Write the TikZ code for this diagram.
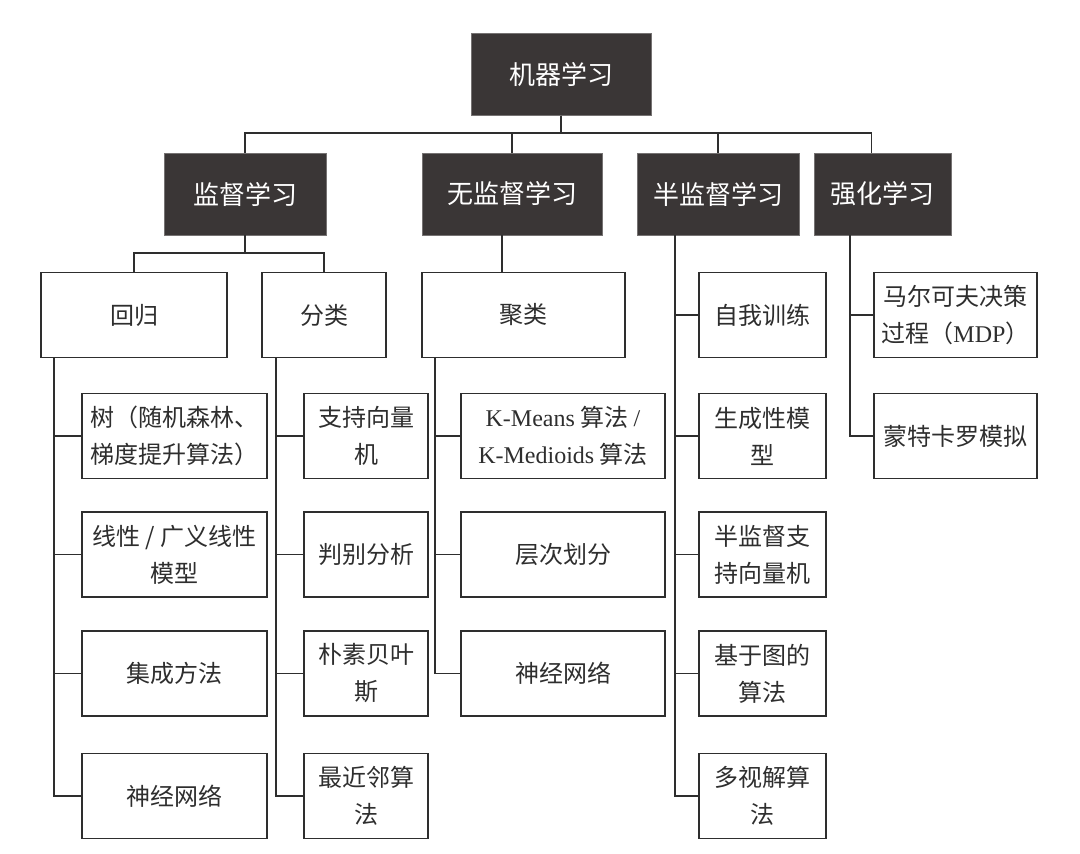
\documentclass[tikz,border=0pt]{standalone}
\usepackage{fontspec}
\setmainfont{Noto Sans CJK SC}
\newfontfamily\lat{Liberation Serif}
\usepackage{tikz}
\usetikzlibrary{positioning}
\definecolor{ink}{HTML}{3A3636}
\definecolor{rule}{HTML}{2E2E2E}
\tikzset{
  head/.style={fill=ink,draw=ink!70,text=white,minimum height=82pt,inner sep=0pt,font=\fontsize{26}{30}\selectfont},
  box/.style={draw=rule,fill=white,line width=1.8pt,minimum height=85pt,inner sep=0pt,align=center,text=black!82,font=\fontsize{24}{37}\selectfont},
  link/.style={draw=rule,line width=1.8pt},
}
\begin{document}
\begin{tikzpicture}[x=1pt,y=-1pt]
\useasboundingbox (0,0) rectangle (1080,854);
% top levels
\node[head,minimum width=180pt] (ml) at (561,74.5) {机器学习};
\node[head,minimum width=162pt] (sup) at (245,194) {监督学习};
\node[head,minimum width=180pt] (uns) at (512,194) {无监督学习};
\node[head,minimum width=162pt] (semi) at (718,194) {半监督学习};
\node[head,minimum width=137pt] (rl) at (882.5,194) {强化学习};
\node[box,minimum width=186pt] (reg) at (134,315) {回归};
\node[box,minimum width=124pt] (cls) at (324,315) {分类};
\node[box,minimum width=203pt] (clu) at (523.5,315) {聚类};
% leaves
\node[box,minimum width=185pt] (r1) at (174.5,436) {树（随机森林、\\梯度提升算法）};
\node[box,minimum width=185pt] (r2) at (174.5,554.5) {线性 / 广义线性\\模型};
\node[box,minimum width=185pt] (r3) at (174.5,673.5) {集成方法};
\node[box,minimum width=185pt] (r4) at (174.5,796) {神经网络};
\node[box,minimum width=124pt] (c1) at (366,436) {支持向量\\机};
\node[box,minimum width=124pt] (c2) at (366,554.5) {判别分析};
\node[box,minimum width=124pt] (c3) at (366,673.5) {朴素贝叶\\斯};
\node[box,minimum width=124pt] (c4) at (366,796) {最近邻算\\法};
\node[box,minimum width=204pt] (k1) at (563,436) {{\lat K-Means} 算法 {\lat /}\\{\lat K-Medioids} 算法};
\node[box,minimum width=204pt] (k2) at (563,554.5) {层次划分};
\node[box,minimum width=204pt] (k3) at (563,673.5) {神经网络};
\node[box,minimum width=127pt] (s1) at (762.5,315) {自我训练};
\node[box,minimum width=127pt] (s2) at (762.5,436) {生成性模\\型};
\node[box,minimum width=127pt] (s3) at (762.5,554.5) {半监督支\\持向量机};
\node[box,minimum width=127pt] (s4) at (762.5,673.5) {基于图的\\算法};
\node[box,minimum width=127pt] (s5) at (762.5,796) {多视解算\\法};
\node[box,minimum width=163pt] (q1) at (955.5,315) {马尔可夫决策\\过程（{\lat MDP}）};
\node[box,minimum width=163pt] (q2) at (955.5,436) {蒙特卡罗模拟};
% connectors
\draw[link](ml.south)--++(0,17)-|(sup.north);\draw[link](ml.south)--++(0,17)-|(uns.north);
\draw[link](ml.south)--++(0,17)-|(semi.north);\draw[link](ml.south)--++(0,17)-|([xshift=-11pt]rl.north);
\draw[link](sup.south)--++(0,18)-|(reg.north);\draw[link](sup.south)--++(0,18)-|(cls.north);
\draw[link]([xshift=-10pt]uns.south)--([xshift=-10pt]uns.south|-clu.north);
\draw[link]([xshift=14pt]reg.south west)|-(r1.west);\draw[link]([xshift=14pt]reg.south west)|-(r2.west);
\draw[link]([xshift=14pt]reg.south west)|-(r3.west);\draw[link]([xshift=14pt]reg.south west)|-(r4.west);
\draw[link]([xshift=15pt]cls.south west)|-(c1.west);\draw[link]([xshift=15pt]cls.south west)|-(c2.west);
\draw[link]([xshift=15pt]cls.south west)|-(c3.west);\draw[link]([xshift=15pt]cls.south west)|-(c4.west);
\draw[link]([xshift=14pt]clu.south west)|-(k1.west);\draw[link]([xshift=14pt]clu.south west)|-(k2.west);
\draw[link]([xshift=14pt]clu.south west)|-(k3.west);
\draw[link]([xshift=38pt]semi.south west)|-(s1.west);\draw[link]([xshift=38pt]semi.south west)|-(s2.west);
\draw[link]([xshift=38pt]semi.south west)|-(s3.west);\draw[link]([xshift=38pt]semi.south west)|-(s4.west);
\draw[link]([xshift=38pt]semi.south west)|-(s5.west);
\draw[link]([xshift=36pt]rl.south west)|-(q1.west);\draw[link]([xshift=36pt]rl.south west)|-(q2.west);
\end{tikzpicture}
\end{document}
